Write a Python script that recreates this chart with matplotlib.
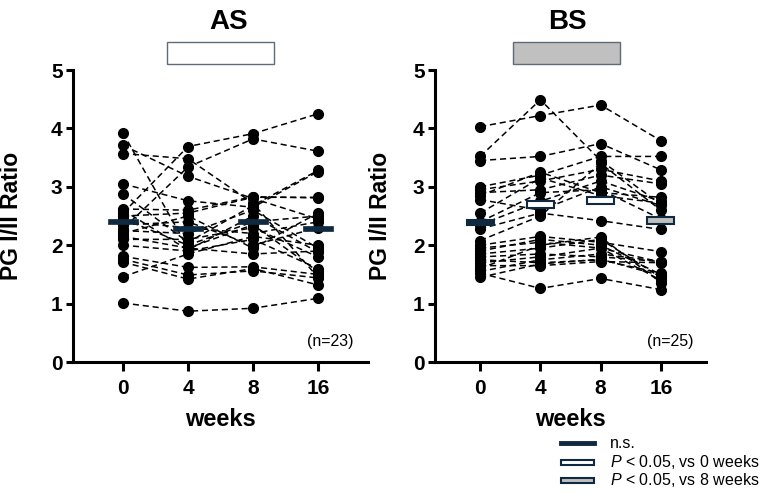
import matplotlib
matplotlib.use("Agg")
import matplotlib.pyplot as plt
from matplotlib.patches import Rectangle
from matplotlib.lines import Line2D

plt.rcParams['font.family'] = ['Liberation Sans', 'DejaVu Sans']
plt.rcParams['mathtext.fontset'] = 'custom'
plt.rcParams['mathtext.it'] = 'Liberation Sans:italic'
plt.rcParams['mathtext.rm'] = 'Liberation Sans'

weeks = ["0", "4", "8", "16"]

# AS group: each row one subject (week 0, 4, 8, 16)
as_data = [
    [1.01, 0.87, 0.92, 1.09],
    [3.92, 1.95, 2.35, 1.55],
    [3.71, 3.18, 2.80, 2.45],
    [3.57, 3.48, 2.72, 1.45],
    [2.55, 3.69, 3.91, 4.25],
    [2.28, 3.34, 3.82, 3.61],
    [3.05, 2.76, 2.65, 3.26],
    [2.88, 2.05, 2.68, 3.28],
    [2.62, 2.60, 2.83, 2.81],
    [2.50, 2.55, 2.82, 2.82],
    [2.45, 2.00, 2.40, 2.50],
    [2.40, 2.30, 2.20, 2.40],
    [2.35, 2.40, 2.00, 2.30],
    [2.25, 2.20, 2.60, 1.95],
    [2.15, 1.95, 1.85, 1.90],
    [2.10, 2.10, 2.30, 1.80],
    [2.00, 1.90, 2.10, 1.60],
    [1.81, 1.62, 1.63, 1.50],
    [1.76, 1.49, 1.56, 1.44],
    [1.71, 1.42, 1.60, 1.32],
    [1.46, 1.85, 2.15, 2.00],
    [2.20, 2.50, 1.95, 2.55],
    [2.60, 1.92, 2.50, 1.88],
]
as_means = [2.40, 2.28, 2.40, 2.28]

# BS group
bs_data = [
    [4.03, 4.22, 4.40, 3.79],
    [3.52, 4.49, 3.45, 2.70],
    [3.45, 3.52, 3.74, 3.29],
    [3.00, 3.20, 3.52, 3.52],
    [2.95, 3.10, 3.30, 3.10],
    [2.90, 2.95, 3.20, 3.05],
    [2.85, 3.25, 2.90, 2.82],
    [2.78, 2.60, 3.00, 2.68],
    [2.55, 3.15, 2.85, 2.72],
    [2.40, 2.90, 2.95, 2.45],
    [2.35, 2.75, 3.10, 2.75],
    [2.28, 2.55, 2.42, 2.27],
    [2.08, 2.50, 3.40, 2.60],
    [2.00, 2.15, 2.05, 1.89],
    [1.95, 2.05, 1.95, 1.71],
    [1.90, 2.10, 2.00, 1.50],
    [1.85, 1.95, 2.10, 1.45],
    [1.80, 1.85, 1.80, 1.72],
    [1.75, 1.70, 1.75, 1.52],
    [1.70, 1.80, 1.95, 1.40],
    [1.65, 1.65, 1.72, 1.70],
    [1.60, 2.00, 2.14, 1.36],
    [1.55, 1.75, 1.85, 1.72],
    [1.52, 1.26, 1.43, 1.24],
    [1.45, 1.68, 1.76, 1.48],
]
bs_means = [2.39, 2.69, 2.77, 2.43]

NAVY = '#0f2940'
GRAY = '#c0c0c0'

fig = plt.figure(figsize=(7.6, 4.94), dpi=100)
W, H = 760.0, 494.0
ax1 = fig.add_axes([73 / W, 1 - 362 / H, 295 / W, 292 / H])
ax2 = fig.add_axes([435 / W, 1 - 362 / H, 271 / W, 292 / H])

xs = list(range(len(weeks)))


def style(ax, xlim):
    ax.set_xlim(*xlim)
    ax.set_ylim(0, 5)
    for s in ['top', 'right']:
        ax.spines[s].set_visible(False)
    for s in ['left', 'bottom']:
        ax.spines[s].set_linewidth(2.2)
    ax.set_xticks(xs)
    ax.set_xticklabels(weeks)
    ax.set_yticks([0, 1, 2, 3, 4, 5])
    ax.tick_params(axis='x', length=6.5, width=2.2, pad=6, labelsize=15)
    ax.tick_params(axis='y', length=5, width=2.2, pad=2.5, labelsize=15)
    for lab in ax.get_xticklabels() + ax.get_yticklabels():
        lab.set_fontweight('bold')
    ax.set_xlabel('weeks', fontsize=17, fontweight='bold', labelpad=7)


def draw(ax, data):
    for row in data:
        ax.plot(xs, row, color='black', lw=1.1, ls=(0, (4, 2.5)),
                marker='o', ms=7, mfc='black', mec='black', zorder=3)


draw(ax1, as_data)
draw(ax2, bs_data)

# mean bars
hA = 0.085
ax1.bar(xs, [hA] * 4, bottom=[m - hA / 2 for m in as_means], width=0.45,
        color=NAVY, edgecolor=NAVY, lw=0.5, zorder=5)
hB = [0.085, 0.12, 0.12, 0.12]
fcs = [NAVY, 'white', 'white', GRAY]
ax2.bar(xs, hB, bottom=[m - h / 2 for m, h in zip(bs_means, hB)], width=0.45,
        color=fcs, edgecolor=NAVY, lw=1.5, zorder=5)

style(ax1, (-0.77, 3.77))
style(ax2, (-0.75, 3.75))

ax1.text(330 / W, 1 - 341.5 / H, '(n=23)', transform=fig.transFigure,
         ha='center', va='center', fontsize=11.5)
ax2.text(670 / W, 1 - 341.5 / H, '(n=25)', transform=fig.transFigure,
         ha='center', va='center', fontsize=11.5)

# y labels
fig.text(11.5 / W, 1 - 216 / H, 'PG I/II Ratio', rotation=90, ha='center',
         va='center', fontsize=16.5, fontweight='bold')
fig.text(381 / W, 1 - 216 / H, 'PG I/II Ratio', rotation=90, ha='center',
         va='center', fontsize=16.5, fontweight='bold')

# titles and boxes
fig.text(229 / W, 1 - 22 / H, 'AS', ha='center', va='center', fontsize=20,
         fontweight='bold')
fig.text(567 / W, 1 - 22 / H, 'BS', ha='center', va='center', fontsize=20,
         fontweight='bold')
fig.add_artist(Rectangle((167 / W, 1 - 64 / H), 107 / W, 22 / H,
                         transform=fig.transFigure, fc='white', ec='#5f6b78', lw=1.0))
fig.add_artist(Rectangle((513 / W, 1 - 64 / H), 107 / W, 22 / H,
                         transform=fig.transFigure, fc=GRAY, ec='#5f6b78', lw=1.0))

# legend
fig.add_artist(Line2D([561 / W, 594 / W], [1 - 443 / H, 1 - 443 / H],
                      transform=fig.transFigure, color=NAVY, lw=3.5))
fig.add_artist(Rectangle((561 / W, 1 - 465 / H), 33 / W, 5 / H,
                         transform=fig.transFigure, fc='white', ec=NAVY, lw=1.5))
fig.add_artist(Rectangle((561 / W, 1 - 482.5 / H), 33 / W, 5 / H,
                         transform=fig.transFigure, fc=GRAY, ec=NAVY, lw=1.5))
fig.text(610 / W, 1 - 443 / H, 'n.s.', ha='left', va='center', fontsize=11.5)
fig.text(610 / W, 1 - 462 / H, r'$\it{P}$ < 0.05, vs 0 weeks', ha='left',
         va='center', fontsize=11.5)
fig.text(610 / W, 1 - 480 / H, r'$\it{P}$ < 0.05, vs 8 weeks', ha='left',
         va='center', fontsize=11.5)

fig.savefig('out.png', dpi=100)
